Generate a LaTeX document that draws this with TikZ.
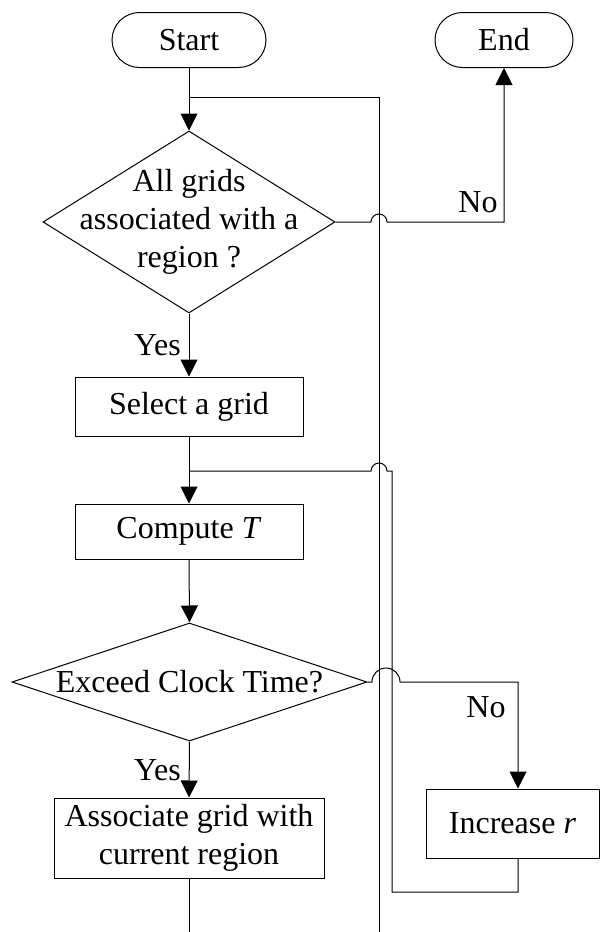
\documentclass[tikz,border=0pt]{standalone}
\usepackage{fontspec}
\setmainfont{Liberation Serif}
\usetikzlibrary{shapes.geometric,shapes.misc,arrows.meta}

\begin{document}
\begin{tikzpicture}[x=1pt,y=-1pt,
  every node/.style={font=\fontsize{32}{38}\selectfont},
  line/.style={draw=black,line width=1pt},
  terminal/.style={rounded rectangle,draw,line width=1pt,inner sep=0pt,minimum height=55pt},
  process/.style={rectangle,draw,line width=1pt,inner sep=0pt,align=center},
  decision/.style={diamond,draw,line width=1pt,inner sep=0pt},
  tag/.style={inner sep=0pt},
  flow/.style={line,-{Triangle[width=17pt,length=17pt]}}]

\useasboundingbox (0,0) rectangle (600,932);

% terminals
\node[terminal,minimum width=154pt] (start) at (189,40) {Start};
\node[terminal,minimum width=138pt] (end) at (504,40) {End};

% first decision
\node[decision,minimum width=292pt,minimum height=182pt] (d1) at (189,222) {};
\node[align=center,inner sep=0pt] (d1text) at (d1.center) {All grids\\associated with a\\region ?};

% process boxes
\node[process,minimum width=228pt,minimum height=59pt] (select) at (189,406.5) {Select a grid};
\node[process,minimum width=228pt,minimum height=55pt] (compute) at (189,531.5) {Compute \textit{T}};

% second decision
\node[decision,minimum width=355pt,minimum height=118pt] (d2) at (189.5,682) {};
\node[inner sep=0pt] (d2text) at (d2.center) {Exceed Clock Time?};

\node[process,minimum width=270pt,minimum height=80pt] (assoc) at (189,838) {Associate grid with\\current region};
\node[process,minimum width=173pt,minimum height=69pt] (increase) at (512.5,823.5) {Increase \textit{r}};

% helper points for the routed connectors
\coordinate (j1) at (189,97);
\coordinate (r1top) at (379,97);
\coordinate (r1bot) at (379,932);
\coordinate (j2) at (189,471);
\coordinate (incx) at (518,0);
\coordinate (r2x) at (392,0);
\coordinate (loopy) at (0,892);
\coordinate (abot) at (189,932);

% main spine
\draw[flow] (start.south) -- (d1.north);
\draw[line] (j1) -- (r1top) -- (r1bot);
\draw[flow] (d1.south) -- (select.north);
\draw[flow] (select.south) -- (compute.north);
\draw[flow] (compute.south) -- (d2.north);
\draw[flow] (d2.south) -- (assoc.north);
\draw[line] (assoc.south) -- (abot);

% "No" branch to End, hopping over the return line
\draw[flow] (d1.east) -- (371,222) arc[start angle=180,end angle=0,radius=8pt]
  -- (end.south |- d1.east) -- (end.south);

% "No" branch to Increase r, hopping over both vertical lines
\draw[flow] (d2.east) -- (372,682) arc[start angle=180,end angle=0,radius=14pt]
  -- (incx |- d2.east) -- (incx |- increase.north);

% loop back from Increase r to Compute T
\draw[line] (incx |- increase.south) -- (incx |- loopy) -- (r2x |- loopy) -- (r2x |- j2)
  -- (387,471) arc[start angle=0,end angle=180,radius=8pt] -- (j2);

% branch labels
\node[tag,anchor=east] (yes1) at (181,345) {Yes};
\node[tag,anchor=east] (yes2) at (181,770) {Yes};
\node[tag] (no1) at (478,202) {No};
\node[tag] (no2) at (486,707) {No};
\end{tikzpicture}
\end{document}
